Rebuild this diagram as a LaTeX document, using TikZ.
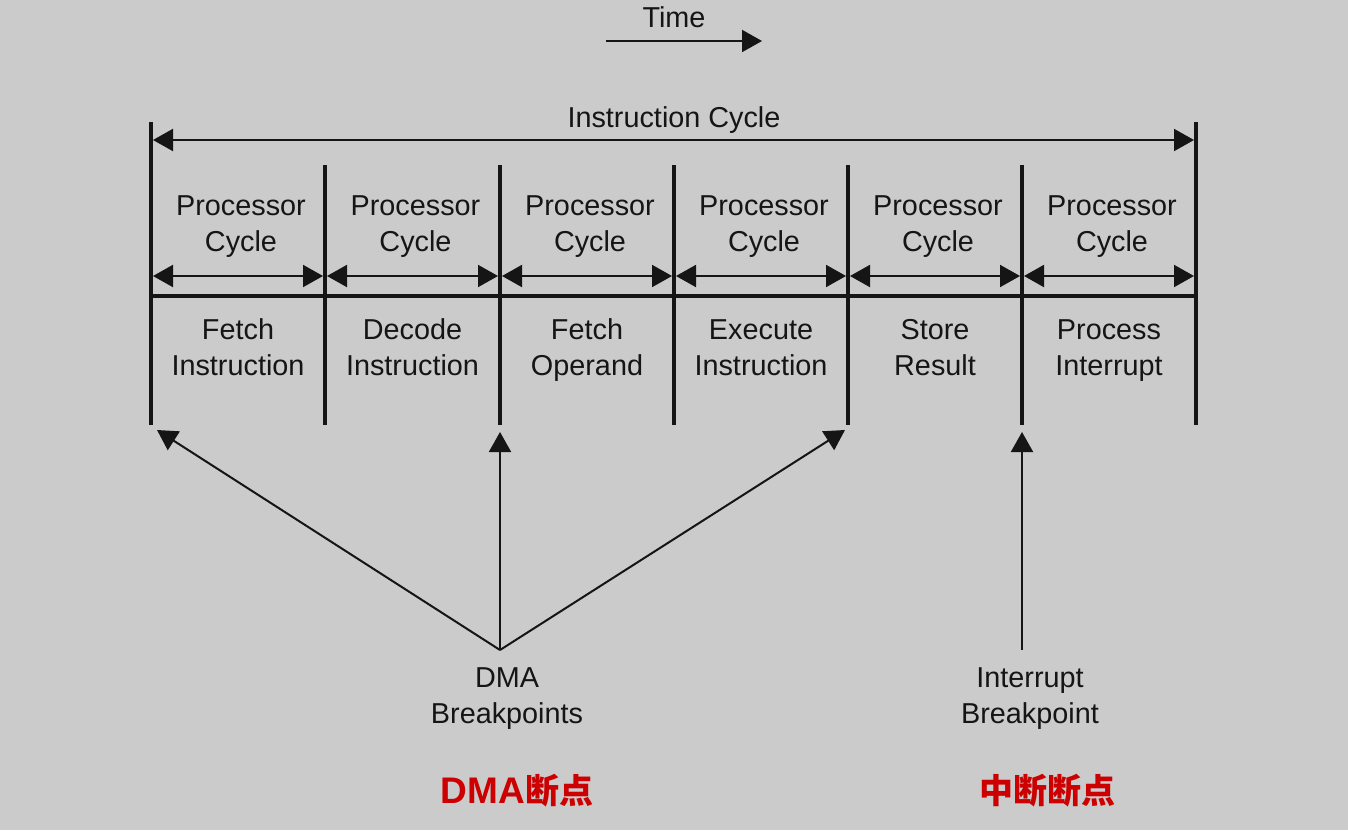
\documentclass[tikz,border=0pt]{standalone}
\usepackage{fontspec}
\usepackage{graphicx}
\setmainfont{Liberation Sans}
\newfontfamily\cjk{Noto Sans CJK SC}
\usetikzlibrary{arrows.meta,calc}
\definecolor{bg}{HTML}{CBCBCB}
\definecolor{ink}{HTML}{151515}
\definecolor{redtxt}{HTML}{CC0000}
\tikzset{
  lbl/.style={text=ink, font=\fontsize{28.8}{36}\selectfont, align=center, anchor=base, inner sep=0pt},
  bar/.style={draw=ink, line width=4pt},
  dim/.style={draw=ink, line width=2pt, {Triangle[length=20pt,width=22pt]}-{Triangle[length=20pt,width=22pt]}},
  ptr/.style={draw=ink, line width=2pt, -{Triangle[length=20pt,width=22pt]}},
  redlbl/.style={text=redtxt, anchor=base, inner sep=0pt}
}
\begin{document}
\begin{tikzpicture}[x=1pt,y=-1pt]
\fill[bg] (0,0) rectangle (1348,830);
\useasboundingbox (0,0) rectangle (1348,830);

% Time
\node[lbl] (time) at (674,27) {Time};
\coordinate (t0) at (606,41);
\coordinate (t1) at (762,41);
\draw[ptr] (t0) -- (t1);

% vertical bars (u/l: baseline of the second text line)
\foreach \i/\x in {0/151,1/325,2/500,3/674,4/848,5/1022,6/1196}{
  \coordinate (b\i) at (\x,425);
  \coordinate (m\i) at (\x,276);
  \coordinate (h\i) at (\x,296);
  \coordinate (u\i) at (\x+3,251);
  \coordinate (l\i) at (\x,375);
}
\coordinate (top0) at (151,122);
\coordinate (top6) at (1196,122);
\foreach \i/\x in {1/325,2/500,3/674,4/848,5/1022}{
  \coordinate (top\i) at (\x,165);
}
\foreach \i in {0,...,6}{ \draw[bar] (top\i) -- (b\i); }
\draw[bar] (h0) -- (h6);

% instruction cycle
\coordinate (ic0) at (153,140);
\coordinate (ic1) at (1194,140);
\draw[dim] (ic0) -- (ic1);
\node[lbl] (ic) at (674,127) {Instruction Cycle};

% processor cycles
\foreach \i/\j in {0/1,1/2,2/3,3/4,4/5,5/6}{
  \draw[dim] ([xshift=2pt]m\i) -- ([xshift=-2pt]m\j);
  \node[lbl] (pc\i) at ($ (u\i)!0.5!(u\j) $) {Processor\\Cycle};
}

% phases
\node[lbl] (ph0) at ($ (l0)!0.5!(l1) $) {Fetch\\Instruction};
\node[lbl] (ph1) at ($ (l1)!0.5!(l2) $) {Decode\\Instruction};
\node[lbl] (ph2) at ($ (l2)!0.5!(l3) $) {Fetch\\Operand};
\node[lbl] (ph3) at ($ (l3)!0.5!(l4) $) {Execute\\Instruction};
\node[lbl] (ph4) at ($ (l4)!0.5!(l5) $) {Store\\Result};
\node[lbl] (ph5) at ($ (l5)!0.5!(l6) $) {Process\\Interrupt};

% breakpoints
\coordinate (dma) at (500,650);
\coordinate (dmaL) at (157,430);
\coordinate (dmaM) at (500,432);
\coordinate (dmaR) at (845,430);
\draw[ptr] (dma) -- (dmaL);
\draw[ptr] (dma) -- (dmaM);
\draw[ptr] (dma) -- (dmaR);
\coordinate (irq) at (1022,650);
\coordinate (irqT) at (1022,432);
\draw[ptr] (irq) -- (irqT);

\node[lbl] (dmalbl) at (507,723) {DMA\\Breakpoints};
\node[lbl] (irqlbl) at (1030,723) {Interrupt\\Breakpoint};

\node[redlbl] (dmared) at (517,803) {\fontsize{37}{37}\selectfont\bfseries DMA\cjk\fontsize{34}{34}\selectfont\bfseries 断点};
\node[redlbl] (irqred) at (1047,803) {\cjk\fontsize{34}{34}\selectfont\bfseries 中断断点};
\end{tikzpicture}
\end{document}
